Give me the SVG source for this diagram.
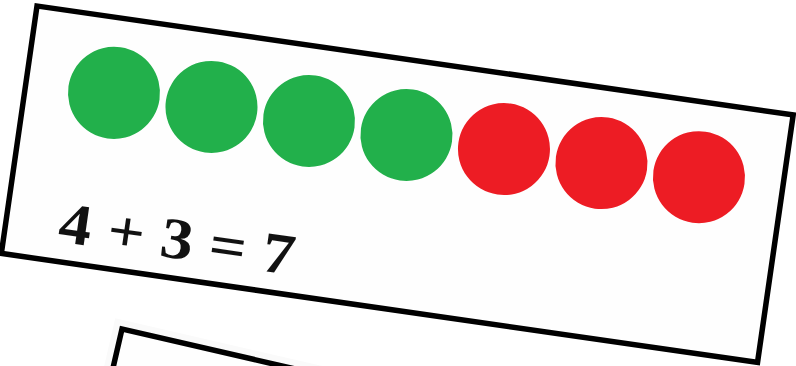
<svg xmlns="http://www.w3.org/2000/svg" width="796" height="366" viewBox="0 0 796 366">
  <style>
    .card { fill: #fefefe; stroke: #000; stroke-width: 5.5; stroke-linejoin: miter; }
    .green { fill: #22b04b; }
    .red { fill: #ed1c24; }
    .eq { font-family: "Liberation Serif", "Times New Roman", serif; font-weight: bold; font-size: 58px; fill: #111; }
  </style>
  <rect width="796" height="366" fill="#ffffff"/>
  <g id="card2" transform="translate(122,329) rotate(13)">
    <rect x="-9" y="-9" width="709" height="309" fill="#fafafa"/>
    <rect class="card" x="0" y="0" width="700" height="300"/>
  </g>
  <g id="card1" transform="translate(37,6) rotate(8.2)">
    <rect class="card" x="0" y="0" width="764" height="250"/>
    <g id="dots">
      <circle class="green" cx="88.6" cy="75" r="46"/>
      <circle class="green" cx="187.1" cy="75" r="46"/>
      <circle class="green" cx="285.6" cy="75" r="46"/>
      <circle class="green" cx="384.1" cy="75" r="46"/>
      <circle class="red" cx="482.6" cy="75" r="46"/>
      <circle class="red" cx="581.1" cy="75" r="46"/>
      <circle class="red" cx="679.6" cy="75" r="46"/>
    </g>
    <text id="equation" class="eq" x="53" y="230" textLength="238" lengthAdjust="spacingAndGlyphs">4 + 3 = 7</text>
  </g>
</svg>
